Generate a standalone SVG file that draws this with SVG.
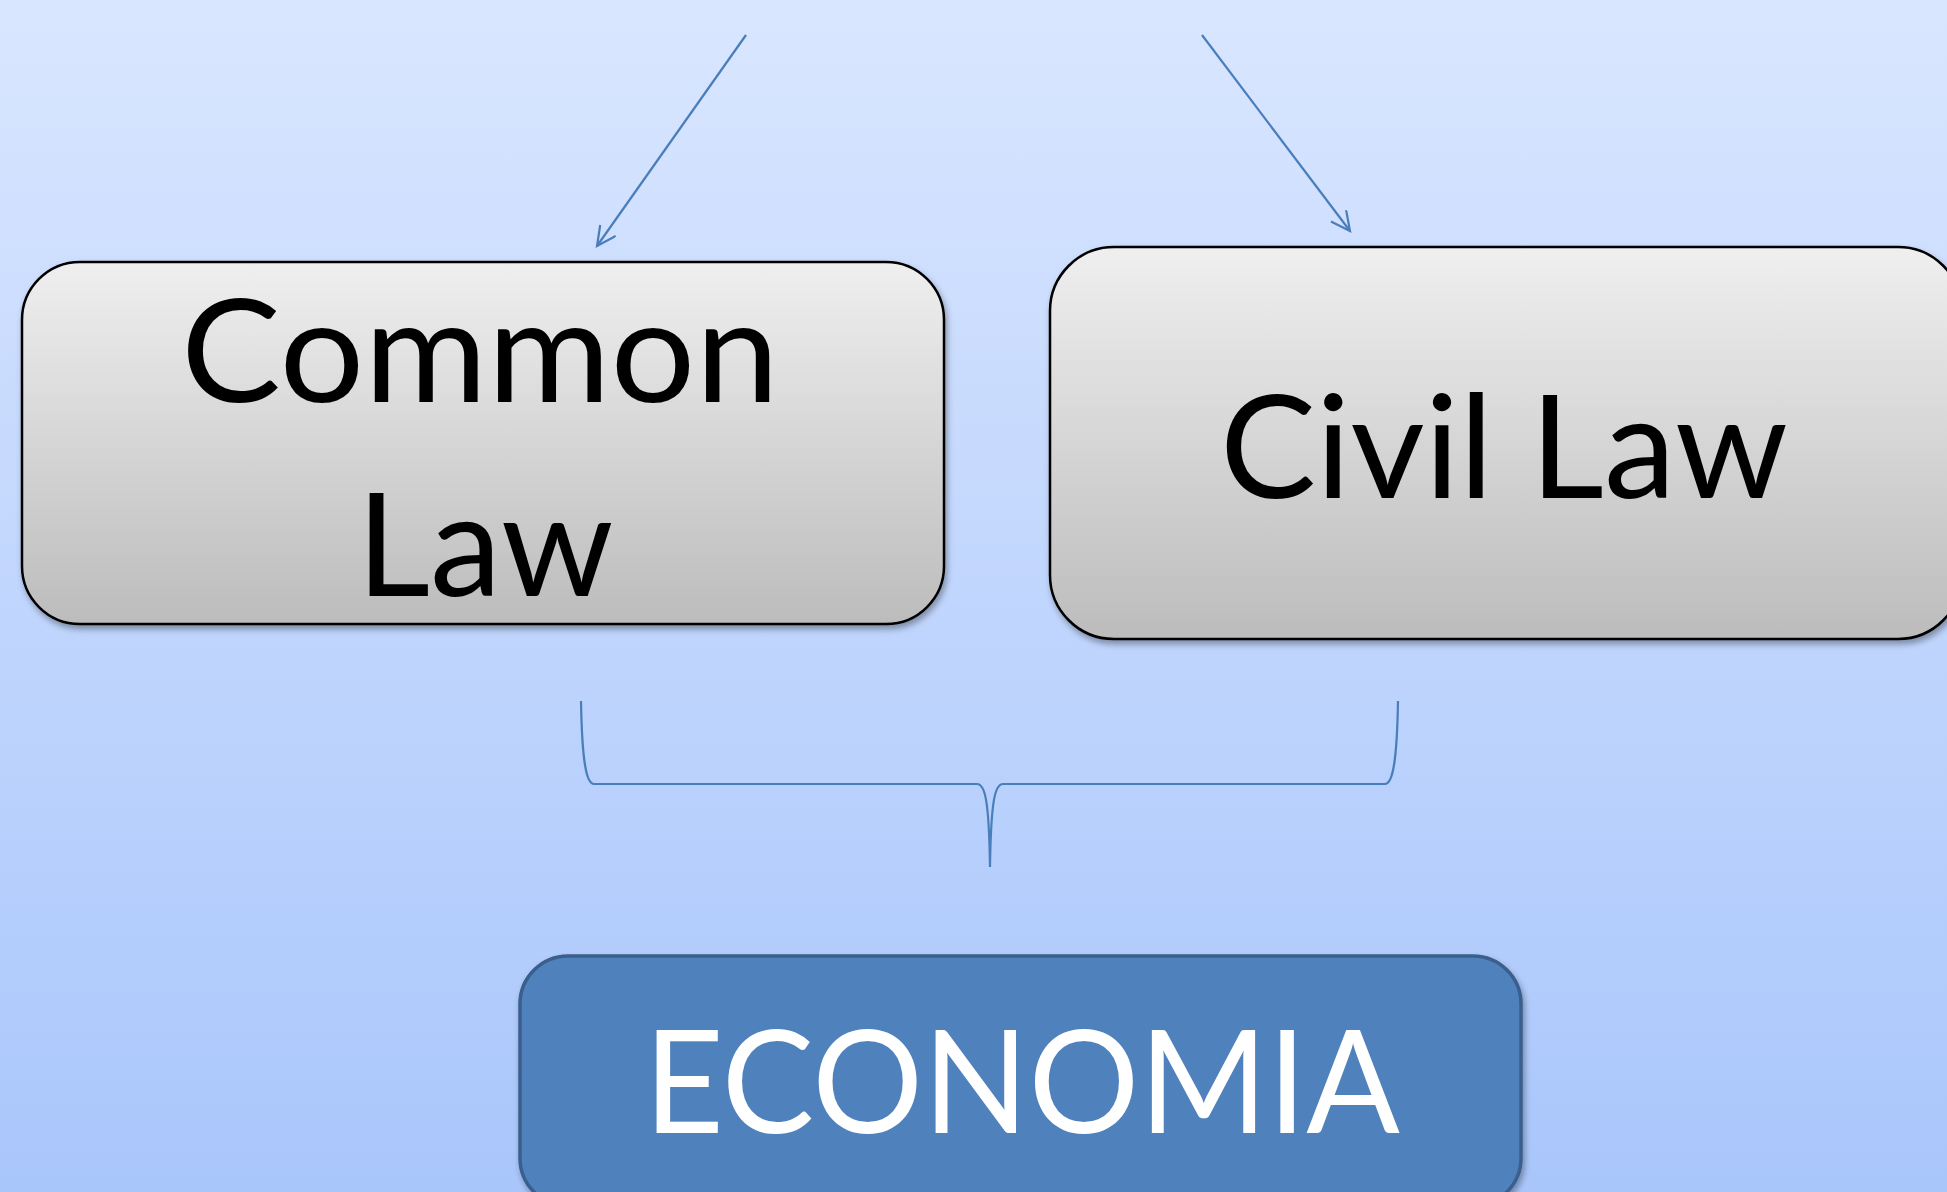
<svg xmlns="http://www.w3.org/2000/svg" width="1947" height="1192" viewBox="0 0 1947 1192">
  <defs>
    <linearGradient id="bg" x1="0" y1="0" x2="0" y2="1">
      <stop offset="0" stop-color="#d9e6ff"/>
      <stop offset="1" stop-color="#a9c6fb"/>
    </linearGradient>
    <linearGradient id="gray" x1="0" y1="0" x2="0" y2="1">
      <stop offset="0" stop-color="#efefef"/>
      <stop offset="1" stop-color="#bcbcbc"/>
    </linearGradient>
    <filter id="shadow" x="-5%" y="-5%" width="115%" height="120%">
      <feDropShadow dx="2" dy="4" stdDeviation="3" flood-color="#000" flood-opacity="0.35"/>
    </filter>
    <marker id="arrow" markerUnits="userSpaceOnUse" markerWidth="24" markerHeight="24" refX="20" refY="10" orient="auto" viewBox="0 0 24 24">
      <path d="M1,0.5 L20,10 L1,19.5" fill="none" stroke="#4a7ebb" stroke-width="2.2"/>
    </marker>
    <style>
      .gbox { fill: url(#gray); stroke: #000; stroke-width: 2.5; filter: url(#shadow); }
      .bbox { fill: #4f81bd; stroke: #3a5f8c; stroke-width: 3.5; filter: url(#shadow); }
      .lbl { font-family: Lato, "Liberation Sans", sans-serif; font-size: 144px; text-anchor: middle; fill: #000; }
      .wlbl { fill: #fff; }
      .conn { fill: none; stroke: #4a7ebb; stroke-width: 2.2; }
    </style>
  </defs>

  <rect x="0" y="0" width="1947" height="1192" fill="url(#bg)"/>

  <g id="common-law">
    <rect class="gbox" x="22" y="262" width="922" height="362" rx="58" ry="58"/>
    <text class="lbl" x="480" y="402" textLength="598" lengthAdjust="spacingAndGlyphs">Common</text>
    <text class="lbl" x="485" y="596" textLength="257" lengthAdjust="spacingAndGlyphs">Law</text>
  </g>

  <g id="civil-law">
    <rect class="gbox" x="1050" y="247" width="912" height="392" rx="64" ry="64"/>
    <text class="lbl" x="1504" y="498" textLength="568" lengthAdjust="spacingAndGlyphs">Civil Law</text>
  </g>

  <g id="economia">
    <rect class="bbox" x="520" y="956" width="1001" height="250" rx="48" ry="48"/>
    <text class="lbl wlbl" x="1022" y="1133" font-size="142" textLength="756" lengthAdjust="spacingAndGlyphs">ECONOMIA</text>
  </g>

  <g id="connectors">
    <line class="conn" x1="746" y1="35" x2="597" y2="246" marker-end="url(#arrow)"/>
    <line class="conn" x1="1202" y1="35" x2="1350" y2="231" marker-end="url(#arrow)"/>
    <path class="conn" d="M581,701 C582,760 586,784 594,784 L977,784 C985,784 989,800 990,867 C991,800 995,784 1003,784 L1385,784 C1393,784 1397,760 1398,701"/>
  </g>
</svg>
